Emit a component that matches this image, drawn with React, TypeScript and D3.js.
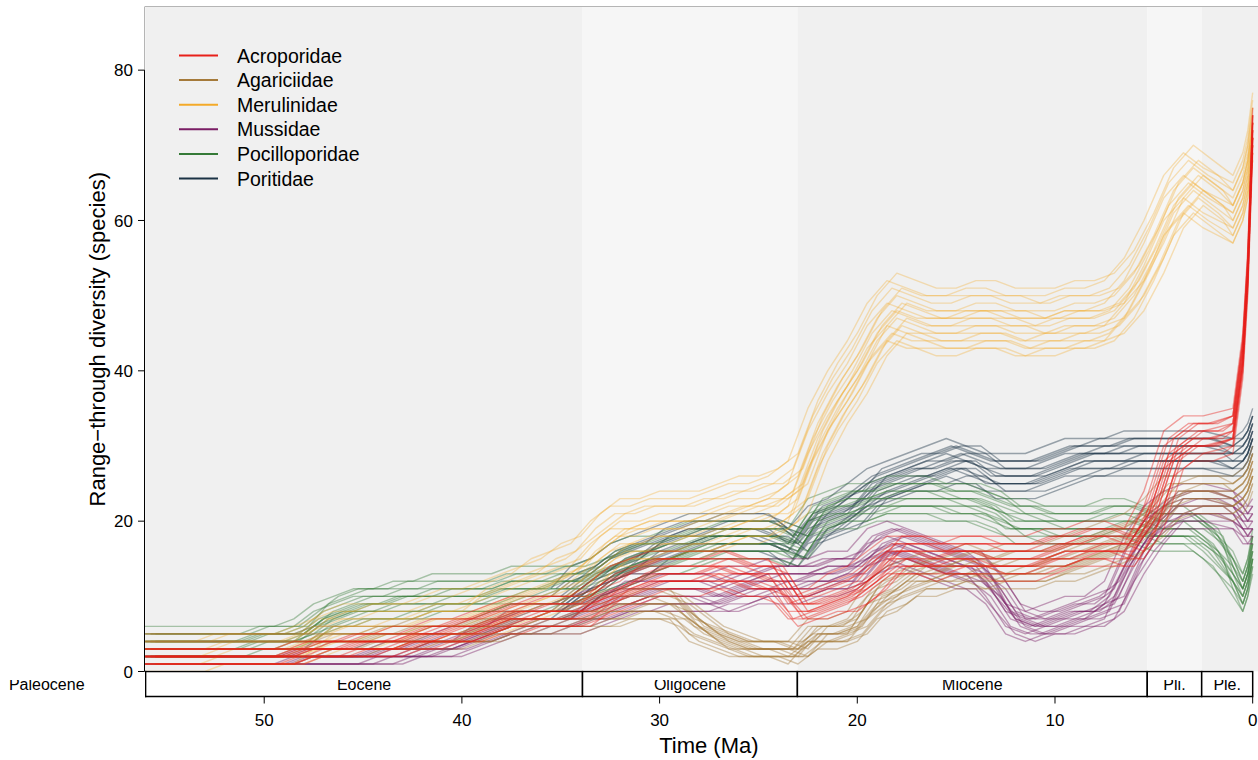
import React from 'react';
import * as d3 from 'd3';

// time bins (Ma), oldest first
const times = [
  56, 55, 54, 53, 52, 51, 50, 49, 48, 47, 46, 45, 44, 43, 42, 41, 40, 39, 38, 37,
  36, 35, 34, 33, 32, 31, 30, 29, 28, 27, 26, 25, 24, 23, 22, 21, 20, 19, 18, 17,
  16, 15, 14, 13, 12, 11, 10, 9, 8, 7, 6, 5, 4, 3, 2, 1, 0.5, 0.25, 0,
];

// median range-through diversity
const acroporidae = [
  2, 2, 2, 2, 2, 2, 2, 2, 2.5, 3, 3, 3.5, 3.5, 4, 4.5, 5, 5.5, 6, 7, 7.5,
  8, 8, 8, 9.5, 11, 12, 13, 13, 13, 13.5, 13, 12.5, 12, 8.5, 9, 10, 11, 13, 15.5, 15.5,
  15, 15.5, 15.5, 15, 15, 15, 16, 16.5, 17, 17, 16.5, 21, 29, 31, 31, 32, 42, 53, 72,
];
const agariciidae = [
  3.5, 3.5, 3.5, 3.5, 3.5, 3.5, 3.5, 3.5, 3.5, 4, 4, 4, 4.5, 4.5, 5, 5, 5, 5.5, 6, 6.5,
  7, 7, 7.5, 8, 8.5, 9, 9, 8.5, 6, 4.5, 3.5, 3, 3, 2.5, 5, 5, 6, 9.5, 11, 12.5,
  13, 13.5, 14, 13.5, 14, 14, 14.5, 15, 16, 17, 18, 20, 23, 23.5, 23.5, 23, 24, 25, 27,
];
const merulinidae = [
  2.5, 2.5, 2.5, 2.5, 3, 3, 3, 3, 3.5, 5, 5.5, 5.5, 6, 6, 6.5, 7, 7, 8, 9, 10,
  11, 12, 13.5, 16, 18, 18.5, 19, 19, 19.5, 20, 21, 21.5, 22, 24, 31, 36, 40, 45, 48, 47,
  46.5, 46.5, 47, 47, 46.5, 46, 46.5, 47, 47, 48, 51, 56, 62, 65, 63, 61, 64, 67, 72,
];
const mussidae = [
  1.5, 1.5, 1.5, 1.5, 1.5, 1.5, 1.5, 1.5, 2, 2, 2, 2, 2.5, 2.5, 3, 3.5, 4, 5, 6, 6.5,
  7, 7, 7.5, 8.5, 9.5, 10, 10.5, 10.5, 10.5, 10, 11, 11.5, 12, 12, 12.5, 13, 13.5, 16, 17, 16,
  15, 14, 13.5, 11, 7, 6, 6.5, 7.5, 8, 9.5, 15, 19, 21.5, 22, 22, 21.5, 20, 19.5, 20,
];
const pocilloporidae = [
  4, 4, 4, 4, 4, 4, 4.5, 4.5, 5, 7, 8, 9, 9, 9.5, 9.5, 10, 10, 10, 10.5, 11,
  11, 11.5, 11.5, 12.5, 14, 15, 15.5, 16, 17, 17.5, 17.5, 17.5, 17.5, 16.5, 20.5, 21.5, 22, 22.5, 23, 23,
  23, 22.5, 22.5, 21.5, 20, 20, 19.5, 19.5, 19.5, 20, 20, 19, 19, 19, 17, 13, 10.5, 12.5, 16,
];
const poritidae = [
  null, null, null, null, null, null, null, null, null, null, null, null, null, null, null, null, null, null, null, null,
  null, 9, 11, 12.5, 14, 15, 16.5, 17.5, 18, 18.5, 18.5, 18.5, 18, 16.5, 19.5, 20.5, 22, 24.5, 25.5, 26.5,
  27, 28, 27.5, 26, 26, 26, 27, 28, 28.5, 28.5, 29, 29, 29, 29, 29, 28.5, 29, 30, 32,
];

// spread of the replicate runs around the median (species) and their offset in time (Ma)
const narrowSpread = [-2.7, -2.3, -1.9, -1.5, -1.2, -0.9, -0.6, -0.3, 0, 0.2, 0.5, 0.8, 1.1, 1.5, 1.9, 2.3, 2.8];
const wideSpread = [-4.4, -3.8, -3.2, -2.6, -2.1, -1.6, -1.1, -0.7, -0.3, 0.1, 0.5, 0.9, 1.4, 1.9, 2.5, 3.1, 3.8, 4.6];
const timeShift = [0, 0.5, -0.5, 0.25, -0.25, 0.5, 0, -0.5, 0.25, 0, -0.25, 0.5, -0.5, 0, 0.25, -0.25, 0.5, 0];

const families = ['Acroporidae', 'Agariciidae', 'Merulinidae', 'Mussidae', 'Pocilloporidae', 'Poritidae'];
const familyValues = [acroporidae, agariciidae, merulinidae, mussidae, pocilloporidae, poritidae];
const familySpread = [narrowSpread, narrowSpread, wideSpread, narrowSpread, narrowSpread, narrowSpread];
const familyColors = ['#e8201a', '#a57a3a', '#f4aa28', '#7a1d64', '#357a37', '#1b3245'];
const familyOpacity = [0.42, 0.4, 0.33, 0.42, 0.4, 0.42];

// geologic epochs
const epochNames = ['Paleocene', 'Eocene', 'Oligocene', 'Miocene', 'Pli.', 'Ple.'];
const epochStart = [66, 56, 33.9, 23.03, 5.333, 2.58];
const epochEnd = [56, 33.9, 23.03, 5.333, 2.58, 0];
const bandFill = ['#f0f0f0', '#f0f0f0', '#f6f6f6', '#f0f0f0', '#f6f6f6', '#f0f0f0'];

const xTicks = [50, 40, 30, 20, 10, 0];
const yTicks = [0, 20, 40, 60, 80];

const W = 1258;
const H = 760;
const left = 145;
const right = 1260;
const top = 7;
const bottom = 671.5;
const scaleTop = 671.5;
const scaleBottom = 696.5;
const font = 'Liberation Sans, Arial, Helvetica, sans-serif';

export default function App() {
  const x = d3.scaleLinear().domain([56.03, -0.37]).range([left, right]);
  const y = d3.scaleLinear().domain([0, 88.4]).range([bottom, top]);

  // draw last family first so Acroporidae ends up on top
  const order = [5, 4, 3, 2, 1, 0];

  const replicate = (fi: number, j: number) => {
    const off = familySpread[fi][j];
    const shift = timeShift[j % timeShift.length];
    const pts: [number, number][] = [];
    familyValues[fi].forEach((v, i) => {
      if (v === null) return;
      // runs scatter less where diversity is low
      const k = Math.min(1, Math.sqrt(v / 12));
      const t = times[i] >= 2 ? times[i] + shift : times[i];
      pts.push([x(t), y(Math.max(0, Math.round(v + off * k)))]);
    });
    return d3.line()(pts) || '';
  };

  return (
    <svg width={W} height={H} style={{ position: 'absolute', left: 0, top: 0 }} fontFamily={font}>
      <defs>
        <clipPath id="plot">
          <rect x={left} y={top} width={right - left} height={bottom - top} />
        </clipPath>
        <clipPath id="scalebox">
          <rect x={left} y={scaleTop - 1} width={right - left} height={scaleBottom - scaleTop + 3} />
        </clipPath>
        <clipPath id="scaletext">
          <rect x={0} y={680} width={W} height={20} />
        </clipPath>
      </defs>

      {/* epoch background bands */}
      <g clipPath="url(#plot)">
        {epochNames.map((n, i) => (
          <rect
            key={n}
            x={x(epochStart[i])}
            y={top}
            width={(i === epochNames.length - 1 ? right : x(epochEnd[i])) - x(epochStart[i])}
            height={bottom - top}
            fill={bandFill[i]}
          />
        ))}
      </g>

      {/* replicate diversity curves */}
      <g clipPath="url(#plot)" fill="none">
        {order.map((fi) =>
          familySpread[fi].map((_, j) => (
            <path
              key={families[fi] + j}
              d={replicate(fi, j)}
              stroke={familyColors[fi]}
              strokeWidth={1.4}
              strokeOpacity={familyOpacity[fi]}
              strokeLinejoin="round"
            />
          ))
        )}
      </g>

      {/* plot frame */}
      <line x1={left} x2={right} y1={top - 0.5} y2={top - 0.5} stroke="#b5b5b5" />
      <line x1={left - 0.5} x2={left - 0.5} y1={top - 0.5} y2={bottom} stroke="#b5b5b5" />

      {/* time scale */}
      <g clipPath="url(#scalebox)">
        {epochNames.map((n, i) => (
          <rect
            key={n}
            x={x(epochStart[i])}
            y={scaleTop}
            width={x(epochEnd[i]) - x(epochStart[i])}
            height={scaleBottom - scaleTop}
            fill="#fff"
            stroke="#000"
            strokeWidth={1.5}
          />
        ))}
      </g>
      <g clipPath="url(#scaletext)">
        {epochNames.map((n, i) => (
          <text
            key={n}
            x={(x(epochStart[i]) + x(epochEnd[i])) / 2}
            y={690}
            fontSize={16}
            textAnchor="middle"
            fill="#000"
          >
            {n}
          </text>
        ))}
      </g>

      {/* y axis */}
      <line x1={left - 0.5} x2={left - 0.5} y1={y(80)} y2={y(0)} stroke="#000" />
      {yTicks.map((t) => (
        <g key={t}>
          <line x1={left - 7} x2={left - 0.5} y1={y(t)} y2={y(t)} stroke="#000" />
          <text x={left - 12} y={y(t)} dy="0.36em" textAnchor="end" fontSize={17}>
            {t}
          </text>
        </g>
      ))}
      <text
        transform={`translate(97,${(top + bottom) / 2}) rotate(-90)`}
        dy="0.36em"
        textAnchor="middle"
        fontSize={22}
      >
        Range−through diversity (species)
      </text>

      {/* x axis */}
      <line x1={left} x2={x(0)} y1={scaleBottom} y2={scaleBottom} stroke="#000" />
      {xTicks.map((t) => (
        <g key={t}>
          <line x1={x(t)} x2={x(t)} y1={scaleBottom} y2={scaleBottom + 7} stroke="#000" />
          <text x={x(t)} y={726} textAnchor="middle" fontSize={17}>
            {t}
          </text>
        </g>
      ))}
      <text x={(left + x(0)) / 2 + 10} y={753} textAnchor="middle" fontSize={22}>
        Time (Ma)
      </text>

      {/* legend */}
      {families.map((f, i) => (
        <g key={f} transform={`translate(0,${55.5 + i * 24.6})`}>
          <line x1={179} x2={218} y1={0} y2={0} stroke={familyColors[i]} strokeWidth={2} />
          <text x={237} y={0} dy="0.36em" fontSize={19.5}>
            {f}
          </text>
        </g>
      ))}
    </svg>
  );
}
